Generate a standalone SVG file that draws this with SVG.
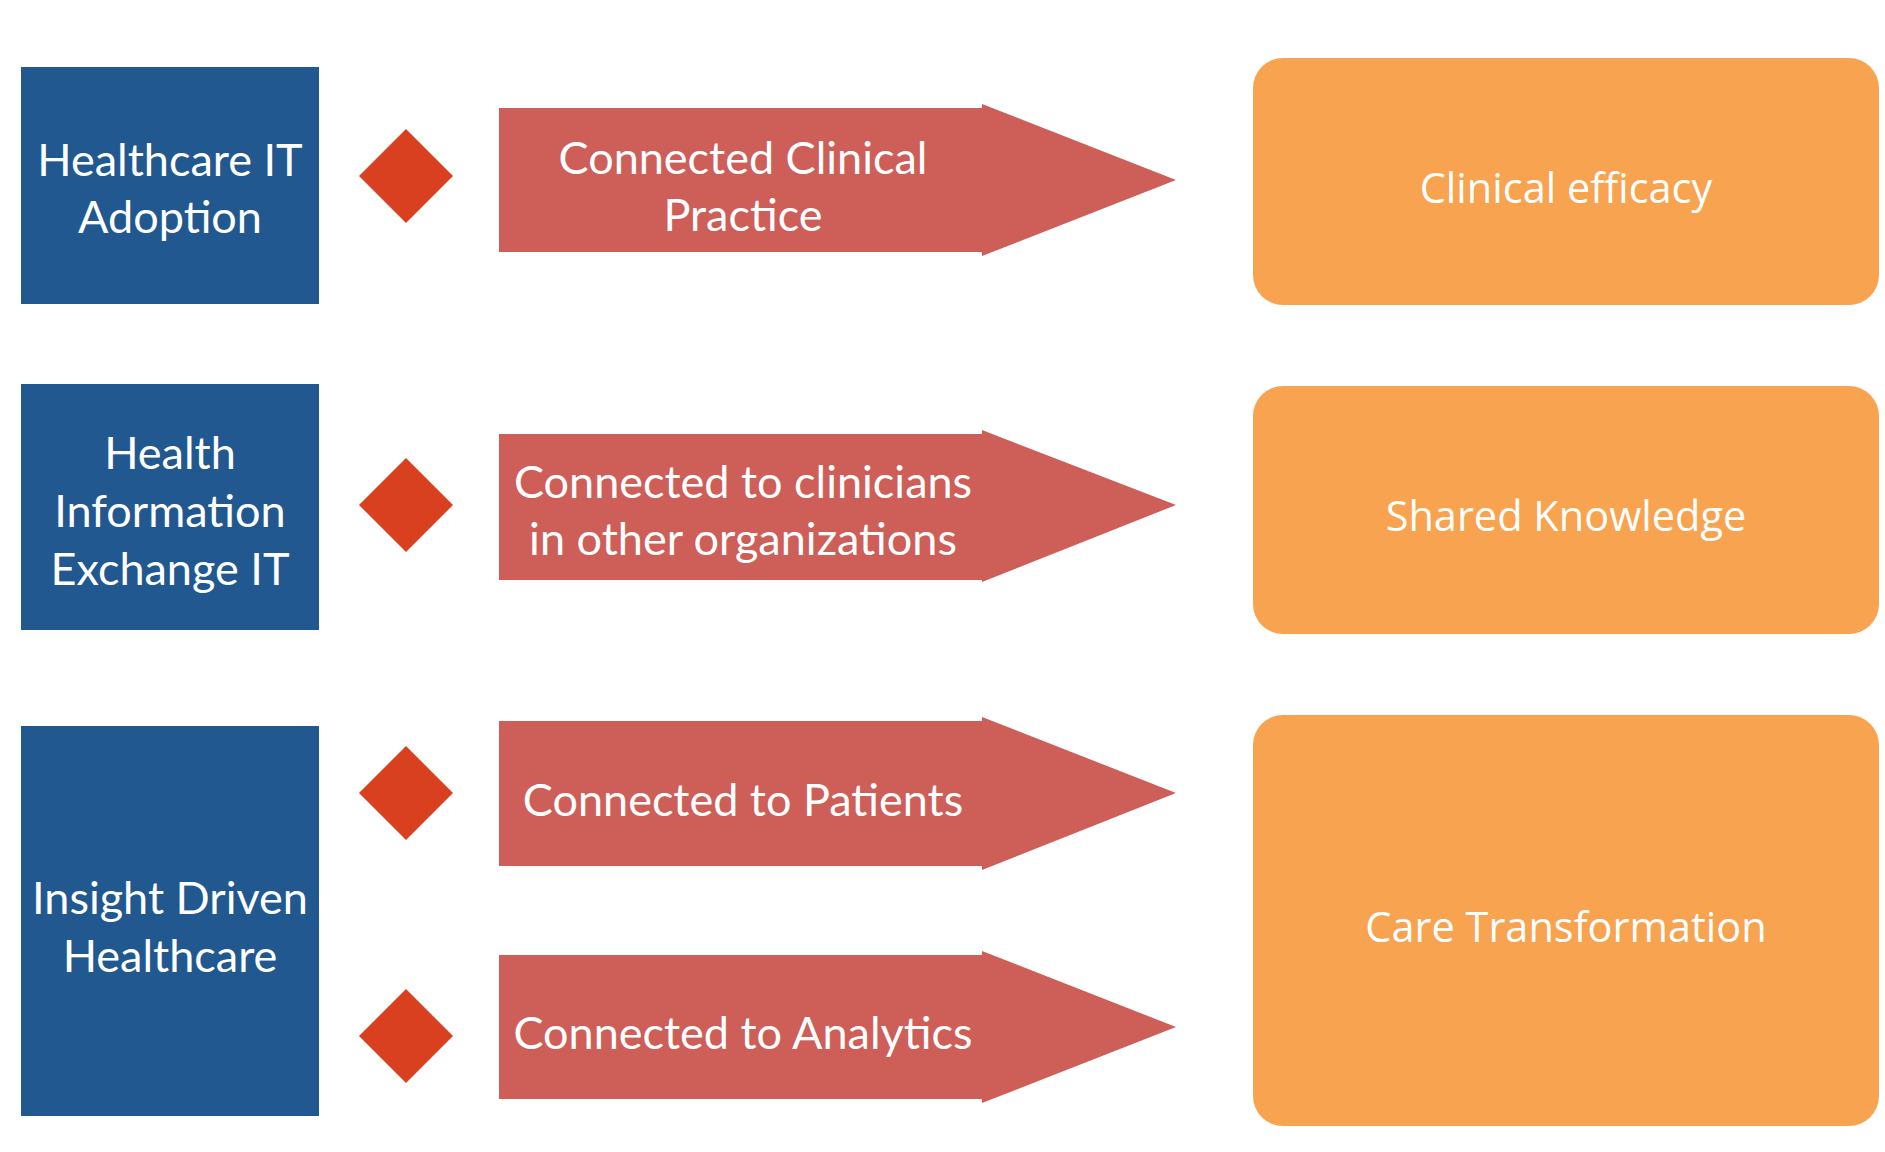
<svg xmlns="http://www.w3.org/2000/svg" width="1885" height="1152" viewBox="0 0 1885 1152">
<style>
.blue{fill:#21588f}
.dia{fill:#d8401f}
.arr{fill:#cd5e58}
.org{fill:#f8a34f}
text{font-family:Lato,"Liberation Sans",sans-serif;font-size:45px;fill:#ffffff;text-anchor:middle}
.o{font-family:"Open Sans","Liberation Sans",sans-serif;font-size:41.5px}
</style>
<rect width="1885" height="1152" fill="#ffffff"/>
<g id="connectors"></g>
<g id="n-hit">
<rect class="blue" x="21" y="67" width="298" height="237"/>
<text x="170" y="176">Healthcare IT</text>
<text x="170" y="233">Adoption</text>
</g>
<g id="n-hie">
<rect class="blue" x="21" y="384" width="298" height="246"/>
<text x="170" y="469">Health</text>
<text x="170" y="527">Information</text>
<text x="170" y="585">Exchange IT</text>
</g>
<g id="n-idh">
<rect class="blue" x="21" y="726" width="298" height="390"/>
<text x="170" y="914">Insight Driven</text>
<text x="170" y="972">Healthcare</text>
</g>
<g id="d1"><polygon class="dia" points="406,129 453,176 406,223 359,176"/></g>
<g id="d2"><polygon class="dia" points="406,458 453,505 406,552 359,505"/></g>
<g id="d3"><polygon class="dia" points="406,746 453,793 406,840 359,793"/></g>
<g id="d4"><polygon class="dia" points="406,989 453,1036 406,1083 359,1036"/></g>
<g id="a1">
<polygon class="arr" points="499,108 982,108 982,104 1176,180 982,256 982,252 499,252"/>
<text x="743" y="174">Connected Clinical</text>
<text x="743" y="231">Practice</text>
</g>
<g id="a2">
<polygon class="arr" points="499,434 982,434 982,430 1176,505 982,582 982,580 499,580"/>
<text x="743" y="498">Connected to clinicians</text>
<text x="743" y="555">in other organizations</text>
</g>
<g id="a3">
<polygon class="arr" points="499,721 982,721 982,717 1176,793 982,870 982,866 499,866"/>
<text x="743" y="816">Connected to Patients</text>
</g>
<g id="a4">
<polygon class="arr" points="499,955 982,955 982,951 1176,1027 982,1103 982,1099 499,1099"/>
<text x="743" y="1049">Connected to Analytics</text>
</g>
<g id="o1">
<rect class="org" x="1253" y="58" width="626" height="247" rx="30"/>
<text class="o" x="1566" y="203">Clinical efficacy</text>
</g>
<g id="o2">
<rect class="org" x="1253" y="386" width="626" height="248" rx="30"/>
<text class="o" x="1566" y="531">Shared Knowledge</text>
</g>
<g id="o3">
<rect class="org" x="1253" y="715" width="626" height="411" rx="30"/>
<text class="o" x="1566" y="942">Care Transformation</text>
</g>
</svg>
